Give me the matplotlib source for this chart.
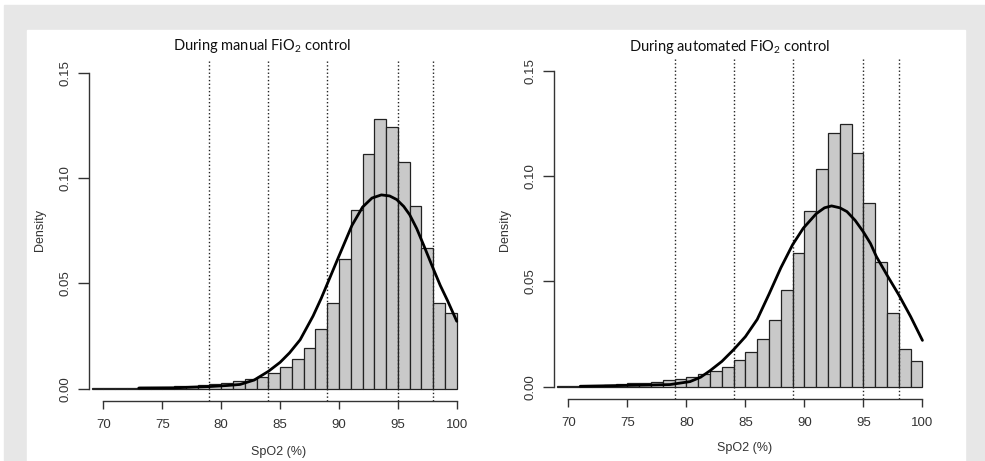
import matplotlib
matplotlib.use("Agg")
import matplotlib.pyplot as plt
from matplotlib.patches import Rectangle

plt.rcParams['mathtext.fontset'] = 'custom'
plt.rcParams['mathtext.rm'] = 'Lato'

# histogram bins (left edges, width 1) and densities
bin_left = list(range(69, 100))
manual_density = [0.0001, 0.0001, 0.0002, 0.0002, 0.0006, 0.0006, 0.0008, 0.0011,
                  0.0013, 0.0017, 0.0022, 0.0029, 0.0036, 0.0044, 0.0054, 0.0076,
                  0.0101, 0.0140, 0.0195, 0.0284, 0.0406, 0.0615, 0.0850, 0.1116,
                  0.1278, 0.1243, 0.1077, 0.0869, 0.0668, 0.0406, 0.0358]
auto_density = [0.0001, 0.0002, 0.0004, 0.0005, 0.0006, 0.0013, 0.0016, 0.0019,
                0.0024, 0.0033, 0.0036, 0.0048, 0.0060, 0.0074, 0.0092, 0.0127,
                0.0165, 0.0228, 0.0317, 0.0459, 0.0634, 0.0835, 0.1033, 0.1207,
                0.1248, 0.1109, 0.0871, 0.0591, 0.0348, 0.0177, 0.0122]

# fitted curves
manual_curve_x = [73.0, 76.0, 79.0, 80.5, 81.6, 82.8, 84.0, 85.0, 85.8, 86.7, 87.8,
                  88.5, 89.1, 90.0, 91.1, 92.0, 92.8, 93.6, 94.3, 94.9, 95.5, 96.0,
                  96.6, 97.2, 98.0, 98.6, 99.2, 100.0]
manual_curve_y = [0.0003, 0.0004, 0.0010, 0.0015, 0.0020, 0.0041, 0.0082, 0.0125,
                  0.0170, 0.0232, 0.0345, 0.0430, 0.0510, 0.0630, 0.0775, 0.0862,
                  0.0905, 0.0920, 0.0915, 0.0898, 0.0865, 0.0826, 0.0760, 0.0680,
                  0.0570, 0.0490, 0.0420, 0.0320]
auto_curve_x = [71.0, 74.0, 77.0, 78.6, 80.3, 81.2, 82.0, 83.0, 84.0, 85.0, 86.0,
                87.0, 88.0, 89.0, 89.9, 91.0, 91.7, 92.3, 93.0, 93.6, 94.3, 95.0,
                95.6, 96.1, 97.0, 98.0, 99.0, 100.0]
auto_curve_y = [0.0002, 0.0005, 0.0008, 0.0010, 0.0024, 0.0045, 0.0076, 0.0120,
                0.0176, 0.0238, 0.0320, 0.0440, 0.0565, 0.0675, 0.0753, 0.0822,
                0.0850, 0.0859, 0.0850, 0.0832, 0.0790, 0.0735, 0.0680, 0.0618,
                0.0530, 0.0436, 0.0333, 0.0220]

cutoffs = [79, 84, 89, 95, 98]
xticks = [70, 75, 80, 85, 90, 95, 100]
yticks = [0.00, 0.05, 0.10, 0.15]

W, H = 985, 461
fig = plt.figure(figsize=(W / 100, H / 100), dpi=100)
fig.patch.set_facecolor('white')
fig.add_artist(Rectangle((4 / W, 0), (W - 4) / W, (H - 5) / H,
                         transform=fig.transFigure, color='#e7e7e7', zorder=-2))
fig.add_artist(Rectangle((27 / W, 0), (965 - 27) / W, (H - 30) / H,
                         transform=fig.transFigure, color='white', zorder=-1))

tick_font = dict(family='Liberation Sans', size=9.5, color='#333333')


def panel(rect, dens, cx, cy):
    ax = fig.add_axes(rect)
    ax.set_facecolor('white')
    ax.bar(bin_left, dens, width=1, align='edge', color='#c9c9c9',
           edgecolor='#222222', linewidth=0.9, zorder=2)
    for c in cutoffs:
        ax.axvline(c, color='#222222', linestyle=':', linewidth=1.0, zorder=3)
    ax.plot(cx, cy, color='black', linewidth=2.0, zorder=4,
            solid_joinstyle='round', solid_capstyle='round')
    ax.set_xlim(68.8, 101.2)
    ax.set_ylim(-0.006, 0.156)
    for s in ('top', 'right'):
        ax.spines[s].set_visible(False)
    for s in ('left', 'bottom'):
        ax.spines[s].set_color('#333333')
        ax.spines[s].set_linewidth(1.0)
    ax.spines['left'].set_bounds(0, 0.15)
    ax.spines['bottom'].set_bounds(70, 100)
    ax.set_xticks(xticks)
    ax.set_xticklabels([str(v) for v in xticks], **tick_font)
    ax.set_yticks(yticks)
    ax.set_yticklabels(['%.2f' % v for v in yticks], rotation=90, va='center', **tick_font)
    ax.tick_params(axis='x', length=6, width=1, color='#333333', pad=7)
    ax.tick_params(axis='y', length=8, width=1, color='#333333', pad=5)
    return ax


panel([89.3 / W, (H - 401.3) / H, 381.6 / W, 341.2 / H],
      manual_density, manual_curve_x, manual_curve_y)
panel([554.3 / W, (H - 399.3) / H, 382.3 / W, 340.9 / H],
      auto_density, auto_curve_x, auto_curve_y)

title_font = dict(family='Lato', size=10.5, color='#111111', ha='center', va='center')
fig.text(262 / W, 1 - 46 / H, r'During manual FiO$\mathregular{_2}$ control', **title_font)
fig.text(730 / W, 1 - 47 / H, r'During automated FiO$\mathregular{_2}$ control', **title_font)

lab_font = dict(family='Liberation Sans', size=9, color='#333333', ha='center', va='center')
fig.text(40 / W, 1 - 230 / H, 'Density', rotation=90, **lab_font)
fig.text(505 / W, 1 - 230 / H, 'Density', rotation=90, **lab_font)
fig.text(279 / W, 1 - 452 / H, 'SpO2 (%)', **lab_font)
fig.text(745 / W, 1 - 448 / H, 'SpO2 (%)', **lab_font)

fig.savefig('out.png', dpi=100)
